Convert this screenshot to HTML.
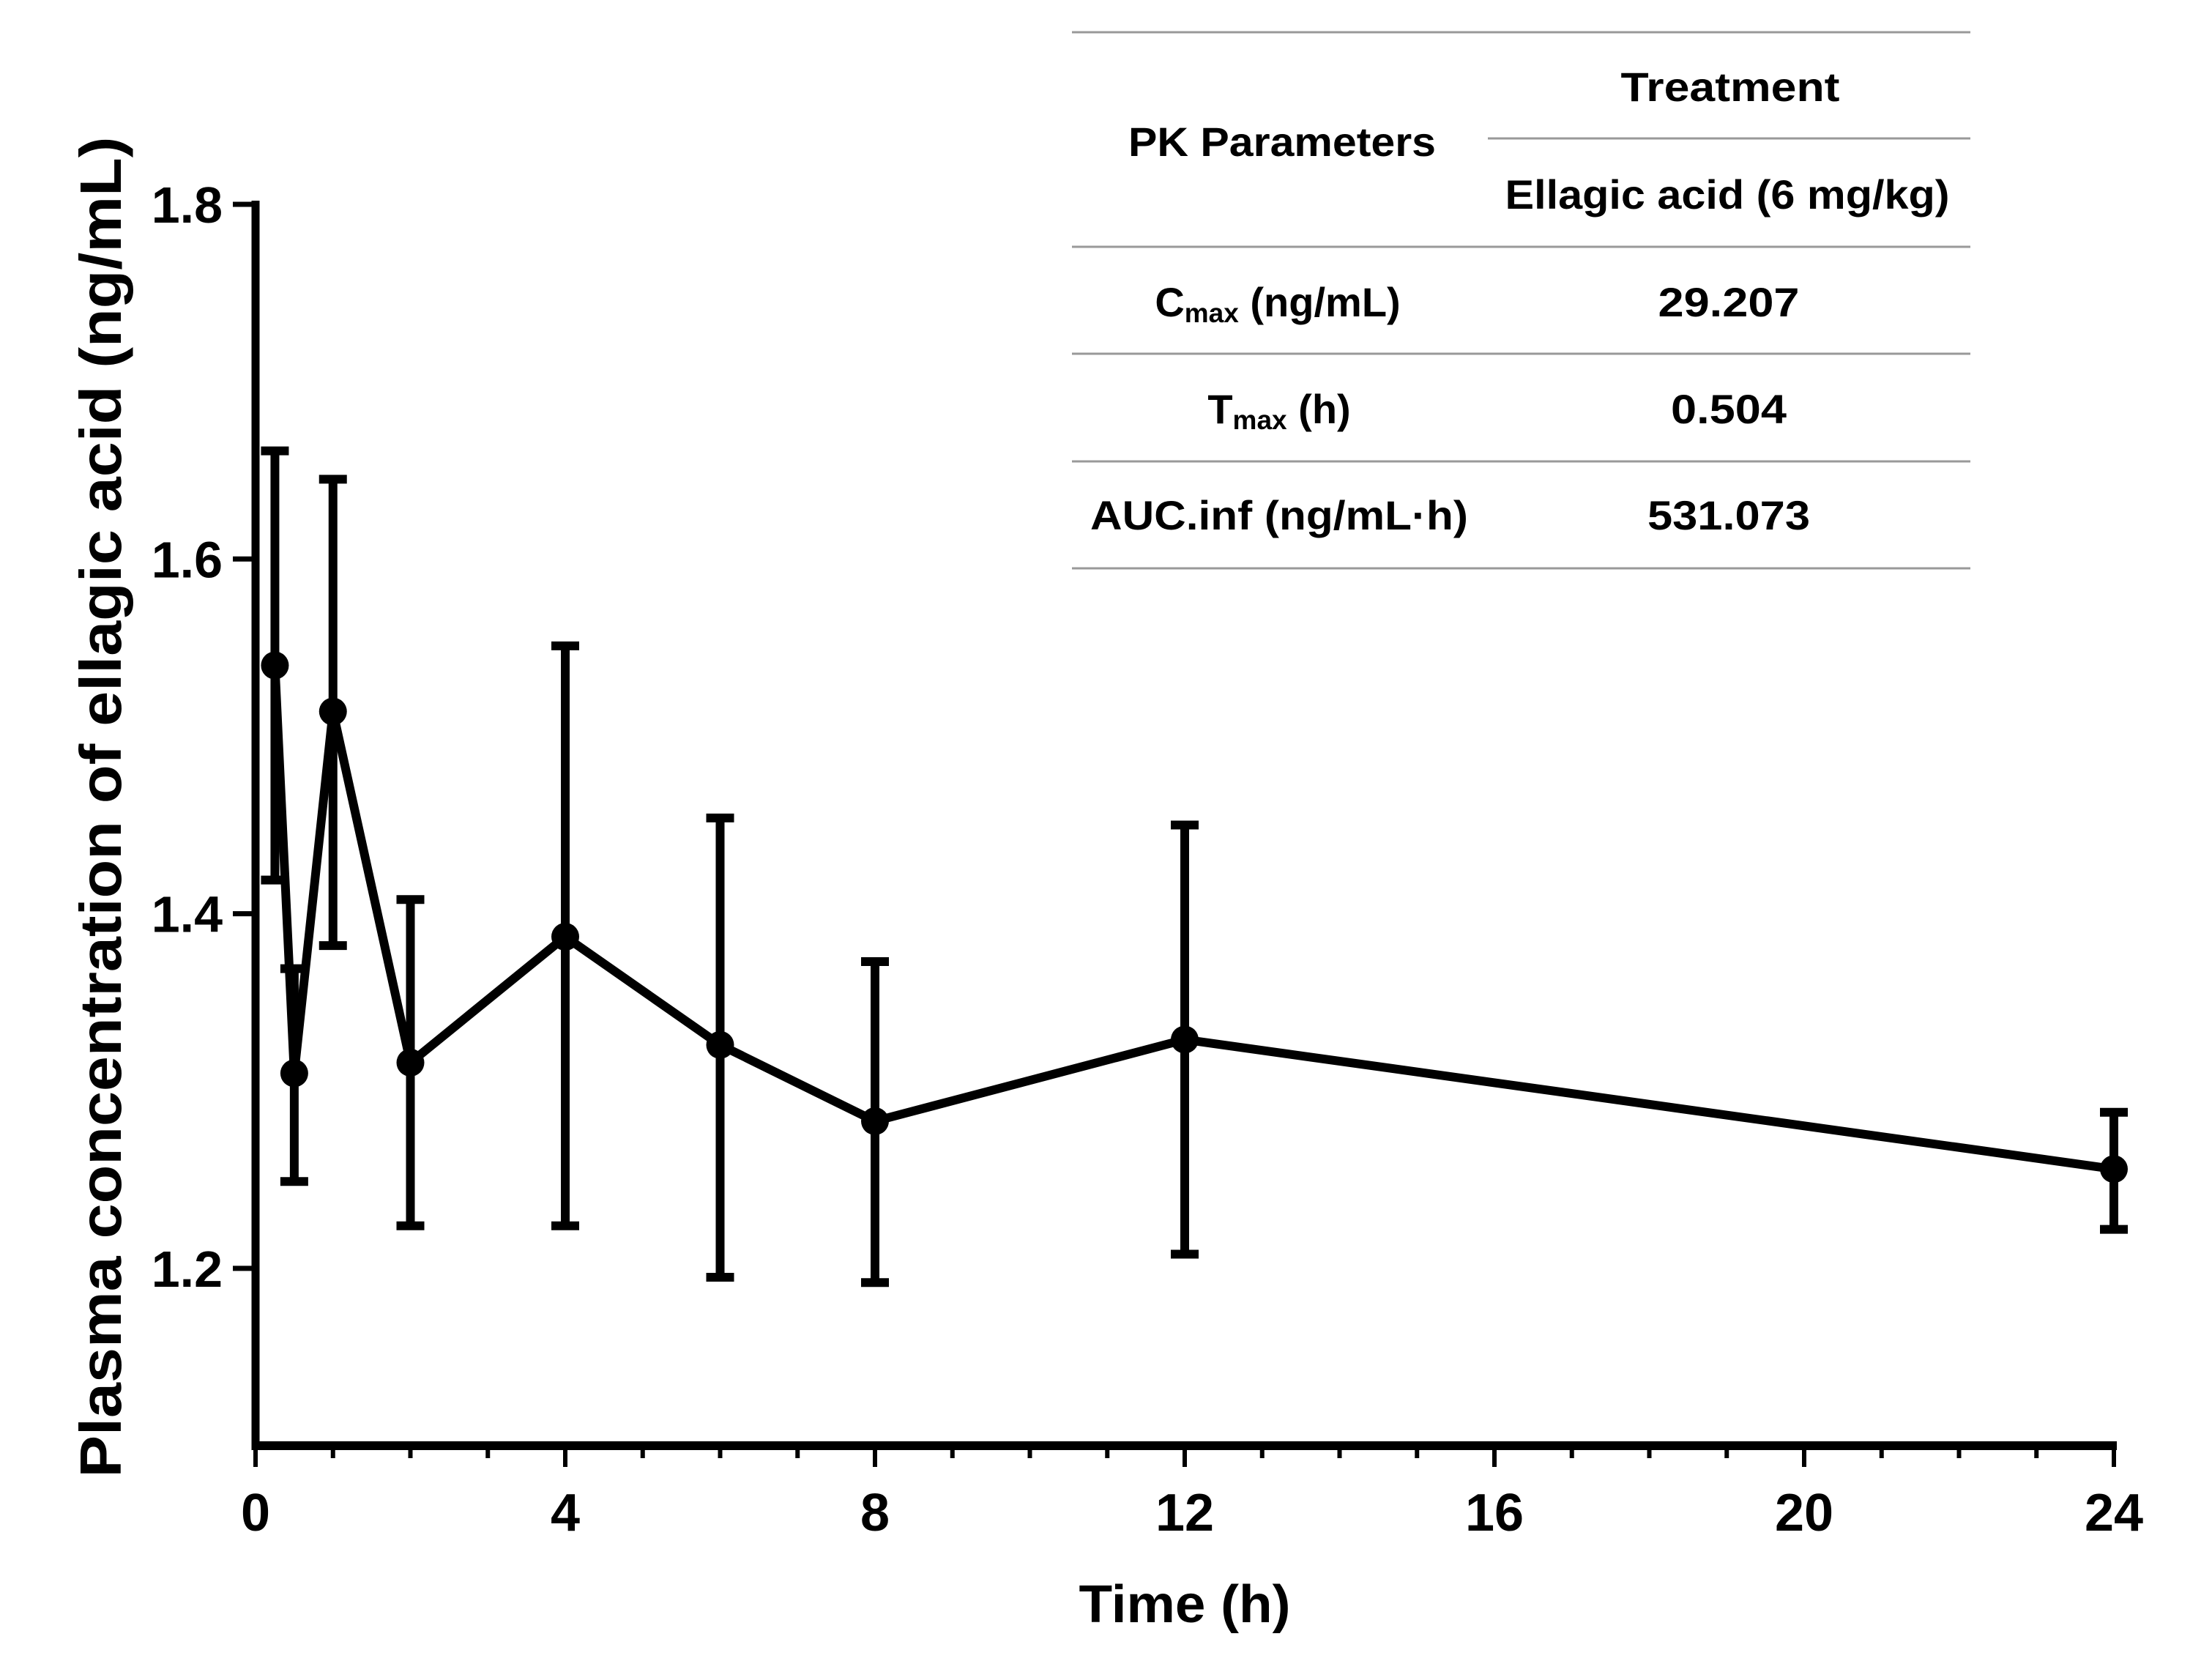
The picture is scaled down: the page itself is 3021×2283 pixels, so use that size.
<!DOCTYPE html>
<html><head><meta charset="utf-8"><style>
html,body{margin:0;padding:0;background:#fff;}
svg{display:block;}
text{font-family:"Liberation Sans",sans-serif;font-weight:bold;fill:#000;}
</style></head><body>
<svg id="chart" width="3021" height="2283" viewBox="0 0 3021 2283" xmlns="http://www.w3.org/2000/svg">
<g id="axes"></g>
<g id="series"></g>
<g id="table">
  <line x1="1464" y1="44" x2="2691" y2="44" stroke="#999" stroke-width="3"/>
  <line x1="2032" y1="189" x2="2691" y2="189" stroke="#999" stroke-width="3"/>
  <line x1="1464" y1="337" x2="2691" y2="337" stroke="#999" stroke-width="3"/>
  <line x1="1464" y1="483" x2="2691" y2="483" stroke="#999" stroke-width="3"/>
  <line x1="1464" y1="630" x2="2691" y2="630" stroke="#999" stroke-width="3"/>
  <line x1="1464" y1="776" x2="2691" y2="776" stroke="#999" stroke-width="3"/>
  <text x="2363" y="138" font-size="56" text-anchor="middle" textLength="299" lengthAdjust="spacingAndGlyphs">Treatment</text>
  <text x="1751" y="213" font-size="56" text-anchor="middle" textLength="420" lengthAdjust="spacingAndGlyphs">PK Parameters</text>
  <text x="2359" y="285" font-size="56" text-anchor="middle" textLength="607" lengthAdjust="spacingAndGlyphs">Ellagic acid (6 mg/kg)</text>
  <text x="1745" y="432" font-size="56" text-anchor="middle">C<tspan font-size="37" dy="8">max</tspan><tspan dy="-8"> (ng/mL)</tspan></text>
  <text x="2361" y="432" font-size="56" text-anchor="middle" textLength="193" lengthAdjust="spacingAndGlyphs">29.207</text>
  <text x="1747" y="578" font-size="56" text-anchor="middle">T<tspan font-size="37" dy="8">max</tspan><tspan dy="-8"> (h)</tspan></text>
  <text x="2361" y="578" font-size="56" text-anchor="middle" textLength="158" lengthAdjust="spacingAndGlyphs">0.504</text>
  <text x="1747" y="723" font-size="56" text-anchor="middle" textLength="516" lengthAdjust="spacingAndGlyphs">AUC.inf (ng/mL·h)</text>
  <text x="2361" y="723" font-size="56" text-anchor="middle" textLength="222" lengthAdjust="spacingAndGlyphs">531.073</text>
</g>
<text x="1618" y="2215" font-size="72" text-anchor="middle" textLength="289" lengthAdjust="spacingAndGlyphs">Time (h)</text>
<text transform="translate(165,1102) rotate(-90)" x="0" y="0" font-size="80" text-anchor="middle" textLength="1831" lengthAdjust="spacingAndGlyphs">Plasma concentration of ellagic acid (ng/mL)</text>
</svg>
<script>
const times = [0.25, 0.5, 1, 2, 4, 6, 8, 12, 24];
const means = [1.540, 1.310, 1.514, 1.316, 1.387, 1.326, 1.283, 1.329, 1.256];
const upper = [1.661, 1.369, 1.645, 1.408, 1.551, 1.454, 1.373, 1.450, 1.288];
const lower = [1.419, 1.249, 1.382, 1.224, 1.224, 1.195, 1.192, 1.208, 1.222];
const xTicks = [0, 4, 8, 12, 16, 20, 24];
const yTicks = [1.2, 1.4, 1.6, 1.8];
const yTickLabels = ["1.2", "1.4", "1.6", "1.8"];

const NS = "http://www.w3.org/2000/svg";
const X0 = 349, X1 = 2887, XMAX = 24;
const YB = 1974, YT = 279, YMIN = 1.1, YMAX = 1.8;
function xs(t){ return X0 + t / XMAX * (X1 - X0); }
function ys(v){ return YB - (v - YMIN) / (YMAX - YMIN) * (YB - YT); }
function mk(tag, attrs, parent){
  const e = document.createElementNS(NS, tag);
  for (const k in attrs) e.setAttribute(k, attrs[k]);
  parent.appendChild(e);
  return e;
}
const axes = document.getElementById('axes');
const series = document.getElementById('series');

let el = mk('line', {x1: X0, y1: YT - 5, x2: X0, y2: YB + 6, stroke: '#000', 'stroke-width': 11}, axes);


el = mk('line', {x1: X0 - 5, y1: YB, x2: X1 + 4, y2: YB, stroke: '#000', 'stroke-width': 12}, axes);



for (let t = 0; t <= XMAX; t++) {
  const major = xTicks.indexOf(t) >= 0;
  el = mk('line', {x1: xs(t), y1: YB, x2: xs(t), y2: major ? 2003 : 1991, stroke: '#000', 'stroke-width': 6}, axes);
  
  
}
xTicks.forEach(t => {
  el = mk('text', {x: xs(t), y: 2090, 'font-size': 72, 'text-anchor': 'middle'}, axes);
  el.textContent = String(t);
  
  
});
yTicks.forEach((v, i) => {
  el = mk('line', {x1: 318, y1: ys(v), x2: X0, y2: ys(v), stroke: '#000', 'stroke-width': 7}, axes);
  
  
  el = mk('text', {x: 304, y: ys(v) + 25, 'font-size': 70, 'text-anchor': 'end'}, axes);
  el.textContent = yTickLabels[i];
  
  
});

times.forEach((t, i) => {
  const x = xs(t);
  el = mk('line', {x1: x, y1: ys(upper[i]), x2: x, y2: ys(lower[i]), stroke: '#000', 'stroke-width': 12}, series);
  
  
  el = mk('line', {x1: x - 19, y1: ys(upper[i]), x2: x + 19, y2: ys(upper[i]), stroke: '#000', 'stroke-width': 12}, series);
  
  
  el = mk('line', {x1: x - 19, y1: ys(lower[i]), x2: x + 19, y2: ys(lower[i]), stroke: '#000', 'stroke-width': 12}, series);
  
  
});
const pts = times.map((t, i) => xs(t) + ',' + ys(means[i])).join(' ');
el = mk('polyline', {points: pts, fill: 'none', stroke: '#000', 'stroke-width': 12, 'stroke-linejoin': 'miter'}, series);


times.forEach((t, i) => {
  el = mk('circle', {cx: xs(t), cy: ys(means[i]), r: 19, fill: '#000'}, series);
  
  
});
</script>
</body></html>
